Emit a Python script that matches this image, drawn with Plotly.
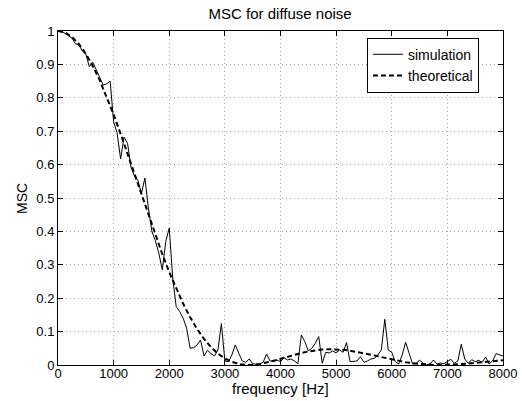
import plotly.graph_objects as go

# Simulation: frequency step 62.5 Hz, 0..8000 Hz
sim_step_hz = 62.5
sim_msc = [
    1.000, 0.998, 0.993, 0.987, 0.979, 0.962, 0.958, 0.940, 0.931, 0.893,
    0.906, 0.884, 0.862, 0.838, 0.842, 0.850, 0.728, 0.695, 0.617, 0.682,
    0.664, 0.592, 0.566, 0.552, 0.514, 0.560, 0.470, 0.400, 0.372, 0.335,
    0.285, 0.370, 0.410, 0.260, 0.175, 0.160, 0.140, 0.110, 0.050, 0.052,
    0.060, 0.075, 0.027, 0.044, 0.034, 0.027, 0.045, 0.124, 0.012, 0.010,
    0.030, 0.060, 0.035, 0.012, 0.008, 0.018, 0.004, 0.002, 0.003, 0.008,
    0.033, 0.012, 0.012, 0.015, 0.010, 0.022, 0.015, 0.018, 0.012, 0.004,
    0.090, 0.070, 0.042, 0.050, 0.065, 0.085, 0.005, 0.038, 0.036, 0.042,
    0.036, 0.045, 0.038, 0.067, 0.010, 0.010, 0.012, 0.025, 0.008, 0.012,
    0.018, 0.020, 0.030, 0.045, 0.137, 0.045, 0.038, 0.010, 0.003, 0.030,
    0.068, 0.035, 0.003, 0.004, 0.015, 0.005, 0.001, 0.003, 0.015, 0.003,
    0.006, 0.004, 0.010, 0.017, 0.005, 0.012, 0.062, 0.018, 0.005, 0.016,
    0.010, 0.014, 0.008, 0.024, 0.003, 0.012, 0.034, 0.030, 0.027,
]
sim_freq = [i * sim_step_hz for i in range(len(sim_msc))]

# Theoretical curve, frequency step 125 Hz, 0..8000 Hz
theo_step_hz = 125
theo_msc = [
    1.0000, 0.9956, 0.9826, 0.9613, 0.9320, 0.8954, 0.8523, 0.8034, 0.7499, 0.6926,
    0.6327, 0.5713, 0.5095, 0.4484, 0.3888, 0.3318, 0.2782, 0.2285, 0.1832, 0.1431,
    0.1080, 0.0782, 0.0536, 0.0341, 0.0195, 0.0093, 0.0030, 0.0003, 0.0004, 0.0029,
    0.0071, 0.0125, 0.0185, 0.0248, 0.0307, 0.0361, 0.0406, 0.0440, 0.0462, 0.0472,
    0.0468, 0.0454, 0.0428, 0.0394, 0.0354, 0.0308, 0.0260, 0.0213, 0.0166, 0.0124,
    0.0085, 0.0054, 0.0030, 0.0012, 0.0003, 0.0000, 0.0004, 0.0014, 0.0028, 0.0045,
    0.0065, 0.0085, 0.0105, 0.0123, 0.0141,
]
theo_freq = [i * theo_step_hz for i in range(len(theo_msc))]

x_ticks = [0, 1000, 2000, 3000, 4000, 5000, 6000, 7000, 8000]
y_ticks = [0, 0.1, 0.2, 0.3, 0.4, 0.5, 0.6, 0.7, 0.8, 0.9, 1]
y_tick_labels = ["0", "0.1", "0.2", "0.3", "0.4", "0.5", "0.6", "0.7", "0.8", "0.9", "1"]

FONT = "Liberation Sans, Arial, Helvetica, sans-serif"

fig = go.Figure()
fig.add_trace(go.Scatter(
    x=sim_freq, y=sim_msc, mode="lines", name="simulation",
    line=dict(color="black", width=1),
))
fig.add_trace(go.Scatter(
    x=theo_freq, y=theo_msc, mode="lines", name="theoretical",
    line=dict(color="black", width=2, dash="5px,3px"),
))

axis_common = dict(
    showline=True, linecolor="black", linewidth=1, mirror="allticks",
    ticks="inside", ticklen=5, tickcolor="black", tickwidth=1,
    showgrid=True, gridcolor="#a8a8a8", griddash="1px,3px", gridwidth=1,
    zeroline=False, tickfont=dict(family=FONT, size=13, color="black"),
    automargin=False,
)

fig.update_layout(
    width=522, height=401,
    margin=dict(l=58, r=19, t=31, b=36),
    paper_bgcolor="white", plot_bgcolor="white",
    title=dict(text="MSC for diffuse noise", x=0.5366, xanchor="center",
               y=0.965, yanchor="middle",
               font=dict(family=FONT, size=15, color="black")),
    xaxis=dict(range=[0, 8000], tickvals=x_ticks, ticklabelstandoff=-4,
               **axis_common),
    yaxis=dict(range=[0, 1], tickvals=y_ticks, ticktext=y_tick_labels,
               **axis_common),
    legend=dict(x=0.946, y=0.98, xanchor="right", yanchor="top",
                bgcolor="white", bordercolor="black", borderwidth=1,
                font=dict(family=FONT, size=14, color="black"),
                itemwidth=30, tracegroupgap=0),
    showlegend=True,
    annotations=[
        dict(text="frequency [Hz]", xref="paper", yref="paper",
             x=0.5, y=-0.07, xanchor="center", yanchor="middle",
             showarrow=False, font=dict(family=FONT, size=15, color="black")),
        dict(text="MSC", xref="paper", yref="paper",
             x=-0.081, y=0.5, xanchor="center", yanchor="middle",
             textangle=-90, showarrow=False,
             font=dict(family=FONT, size=14, color="black")),
    ],
)

fig.write_html("out.html", config={"displayModeBar": False},
               post_script="document.body.style.margin='0';")
